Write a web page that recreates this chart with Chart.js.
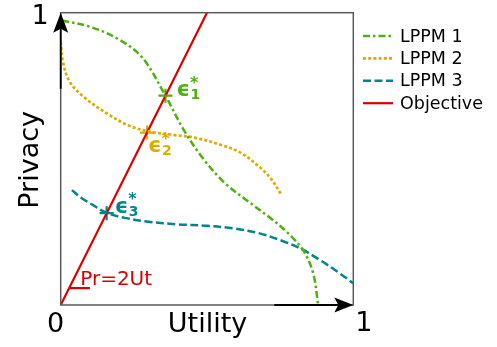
<!DOCTYPE html>
<html>
<head>
<meta charset="utf-8">
<script src="https://cdn.jsdelivr.net/npm/chart.js@4/dist/chart.umd.min.js"></script>
<style>
  html, body { margin: 0; padding: 0; background: #fff; }
  #wrap { width: 497px; height: 347px; }
</style>
</head>
<body>
<div id="wrap"><canvas id="c" width="497" height="347"></canvas></div>
<script>
// ---- data: [utility, privacy] pairs ----
const seriesNames = ['LPPM 1', 'LPPM 2', 'LPPM 3', 'Objective'];

const lppm1 = [
  [0.005, 0.973], [0.100, 0.952], [0.200, 0.908], [0.280, 0.845], [0.358, 0.716],
  [0.420, 0.600], [0.480, 0.510], [0.556, 0.422], [0.640, 0.355], [0.720, 0.295],
  [0.780, 0.243], [0.830, 0.185], [0.863, 0.108], [0.880, 0.000]
];

const lppm2 = [
  [0.000, 0.900], [0.008, 0.830], [0.030, 0.765], [0.077, 0.713], [0.157, 0.656],
  [0.230, 0.615], [0.300, 0.594], [0.385, 0.582], [0.460, 0.572], [0.544, 0.549],
  [0.613, 0.522], [0.670, 0.480], [0.715, 0.437], [0.755, 0.376]
];

const lppm3 = [
  [0.038, 0.393], [0.070, 0.367], [0.110, 0.342], [0.157, 0.315], [0.220, 0.298],
  [0.300, 0.285], [0.400, 0.276], [0.500, 0.271], [0.590, 0.262], [0.680, 0.245],
  [0.750, 0.222], [0.820, 0.193], [0.886, 0.154], [0.954, 0.108], [1.000, 0.074]
];

// Objective: Pr = 2Ut
const objective = [[0, 0], [0.5, 1]];
const slopeMark = [[0.029, 0.058], [0.100, 0.058]];

// optimal points eps*_1..3 where each LPPM meets the objective
const optima = [[0.358, 0.716], [0.295, 0.590], [0.157, 0.314]];
const optimaSubscripts = ['1', '2', '3'];

const tickLabels = ['0', '1'];
const axisTitles = { x: 'Utility', y: 'Privacy' };
const objectiveLabel = 'Pr=2Ut';

// ---- styles ----
const colors = ['#4fb012', '#dcac00', '#00868a', '#d90000'];
const dashes = [[7, 3, 2.5, 3], [3, 2.2], [8, 3.5], []];
const widths = [2.5, 2.7, 2.5, 2.2];
const FONT = '"DejaVu Sans", "Liberation Sans", sans-serif';

const toXY = arr => arr.map(([x, y]) => ({ x, y }));

function curve(i, data) {
  return {
    label: seriesNames[i],
    data: toXY(data),
    showLine: true,
    borderColor: colors[i],
    borderWidth: widths[i],
    borderDash: dashes[i],
    borderCapStyle: 'butt',
    pointRadius: 0,
    tension: 0.35,
    fill: false
  };
}

// frame, arrows, tick texts, axis titles, eps labels and legend
const decorations = {
  id: 'decorations',
  afterDatasetsDraw(chart) {
    const { ctx, chartArea: a, scales: { x, y } } = chart;
    ctx.save();

    // frame
    ctx.strokeStyle = '#5a5a5a';
    ctx.lineWidth = 1.5;
    ctx.setLineDash([]);
    ctx.strokeRect(a.left, a.top, a.right - a.left, a.bottom - a.top);

    // axis arrows
    ctx.strokeStyle = '#000';
    ctx.fillStyle = '#000';
    ctx.lineWidth = 1.8;
    const x0 = x.getPixelForValue(0), x1 = x.getPixelForValue(1);
    const y0 = y.getPixelForValue(0), y1 = y.getPixelForValue(1);
    ctx.beginPath();
    ctx.moveTo(x0, y1 + 10); ctx.lineTo(x0, y.getPixelForValue(0.74));
    ctx.moveTo(x1 - 10, y0); ctx.lineTo(x.getPixelForValue(0.73), y0);
    ctx.stroke();
    // up arrowhead
    ctx.beginPath();
    ctx.moveTo(x0, y1);
    ctx.lineTo(x0 - 7.5, y1 + 20);
    ctx.lineTo(x0, y1 + 16);
    ctx.lineTo(x0 + 7.5, y1 + 20);
    ctx.closePath(); ctx.fill();
    // right arrowhead
    ctx.beginPath();
    ctx.moveTo(x1, y0);
    ctx.lineTo(x1 - 19, y0 - 7.5);
    ctx.lineTo(x1 - 15, y0);
    ctx.lineTo(x1 - 19, y0 + 7.5);
    ctx.closePath(); ctx.fill();

    // tick labels
    ctx.font = '27px ' + FONT;
    ctx.textBaseline = 'alphabetic';
    ctx.textAlign = 'center';
    ctx.fillText(tickLabels[0], x0 - 5, y0 + 27);
    ctx.fillText(tickLabels[1], x1 + 10.5, y0 + 26);
    ctx.fillText(tickLabels[1], x0 - 20.5, y1 + 11);

    // axis titles
    ctx.fillText(axisTitles.x, (x0 + x1) / 2 + 0.5, y0 + 27);
    ctx.save();
    ctx.translate(x0 - 23, (y0 + y1) / 2 + 1);
    ctx.rotate(-Math.PI / 2);
    ctx.textBaseline = 'alphabetic';
    ctx.fillText(axisTitles.y, 0, 0);
    ctx.restore();

    // objective label
    ctx.fillStyle = colors[3];
    ctx.font = '20px ' + FONT;
    ctx.textAlign = 'left';
    ctx.fillText(objectiveLabel, x0 + 19.5, y0 - 20);

    // eps* labels
    const offs = [[11, -5], [1, 14], [8, -6]];
    optima.forEach((p, i) => {
      const px = x.getPixelForValue(p[0]) + offs[i][0];
      const py = y.getPixelForValue(p[1]) + offs[i][1];
      ctx.fillStyle = colors[i];
      ctx.textBaseline = 'middle';
      ctx.font = 'bold 21px ' + FONT;
      ctx.fillText('\u03F5', px, py);
      const w = ctx.measureText('\u03F5').width;
      ctx.font = 'bold 14px ' + FONT;
      ctx.fillText(optimaSubscripts[i], px + w + 0.5, py + 5);
      ctx.font = 'bold 16px ' + FONT;
      ctx.fillText('*', px + w, py - 7);
    });

    // legend
    ctx.font = '17.5px ' + FONT;
    ctx.textBaseline = 'middle';
    ctx.textAlign = 'left';
    seriesNames.forEach((name, i) => {
      const ly = 36 + i * 22.4;
      ctx.strokeStyle = colors[i];
      ctx.lineWidth = widths[i];
      ctx.setLineDash(dashes[i]);
      ctx.beginPath();
      ctx.moveTo(363, ly); ctx.lineTo(393, ly);
      ctx.stroke();
      ctx.setLineDash([]);
      ctx.fillStyle = '#000';
      ctx.fillText(name, 400, ly + 1);
    });

    ctx.restore();
  }
};

new Chart(document.getElementById('c'), {
  type: 'scatter',
  data: {
    datasets: [
      curve(0, lppm1),
      curve(1, lppm2),
      curve(2, lppm3),
      {
        label: seriesNames[3], data: toXY(objective), showLine: true,
        borderColor: colors[3], borderWidth: widths[3], pointRadius: 0
      },
      {
        label: 'slope', data: toXY(slopeMark), showLine: true,
        borderColor: colors[3], borderWidth: widths[3], pointRadius: 0
      },
      {
        label: 'optima', data: toXY(optima), showLine: false,
        pointStyle: 'cross', pointRadius: 7, pointBorderWidth: 2.2,
        pointBorderColor: colors.slice(0, 3), borderColor: colors.slice(0, 3)
      }
    ]
  },
  options: {
    responsive: false,
    animation: false,
    devicePixelRatio: 1,
    layout: { padding: { left: 60.7, right: 143.7, top: 12.7, bottom: 42 } },
    scales: {
      x: { type: 'linear', min: 0, max: 1, display: false },
      y: { type: 'linear', min: 0, max: 1, display: false }
    },
    plugins: {
      legend: { display: false },
      tooltip: { enabled: false }
    }
  },
  plugins: [decorations]
});
</script>
</body>
</html>
